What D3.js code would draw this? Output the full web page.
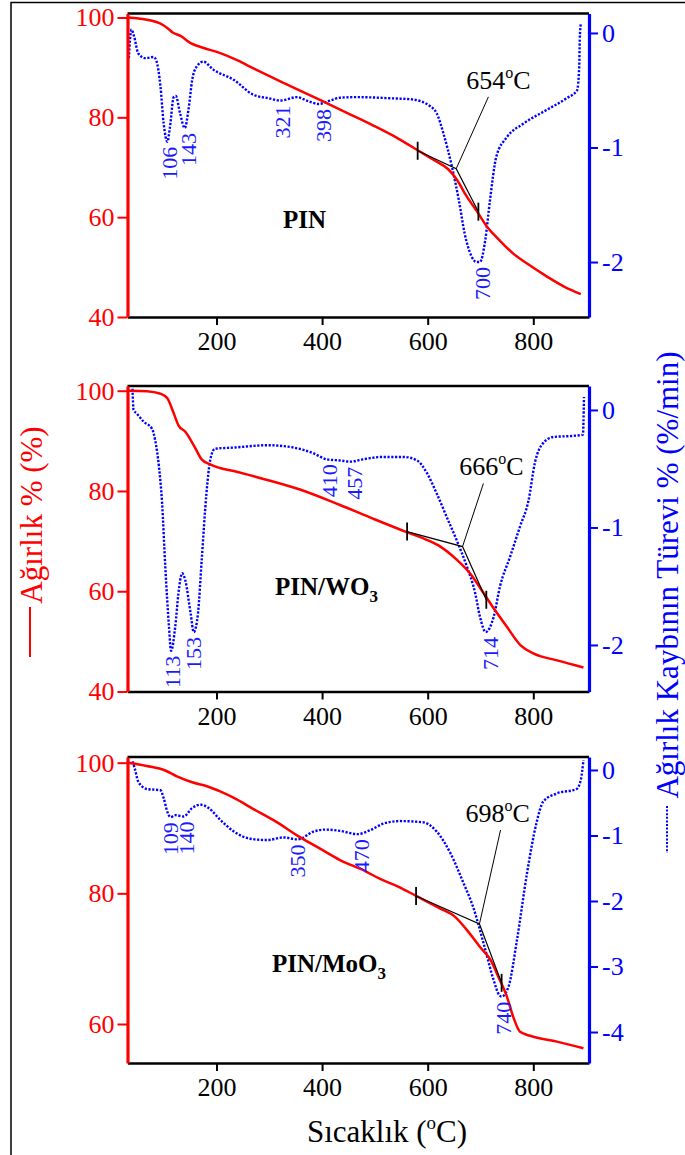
<!DOCTYPE html>
<html><head><meta charset="utf-8">
<script src="https://cdn.jsdelivr.net/npm/d3@7"></script>
<style>body{margin:0;background:#fff}svg{display:block}svg text{font-family:'Liberation Serif','Times New Roman',serif}</style>
</head><body>
<svg id="chart" width="685" height="1155"></svg>
<script>
// ---- axis tick values ----
const tempTicks = [200, 400, 600, 800];
const tempMinor = [100, 300, 500, 700, 900];
const weightTicksAB = [40, 60, 80, 100];
const weightMinorAB = [50, 70, 90];
const weightTicksC = [60, 80, 100];
const weightMinorC = [70, 90];
const derivTicksAB = [0, -1, -2];
const derivMinorAB = [-0.5, -1.5];
const derivTicksC = [0, -1, -2, -3, -4];
const derivMinorC = [-0.5, -1.5, -2.5, -3.5];

// ---- PIN ----
const pinWT = [32, 53, 93, 108, 117, 132, 152, 176, 206, 240, 270, 329, 398, 447, 496, 545, 581, 614, 639, 656, 673, 693, 713, 732, 762, 791, 826, 860, 890];
const pinW  = [100, 99.8, 98.8, 97.8, 97.0, 96.3, 94.8, 93.9, 92.9, 91.4, 89.8, 86.8, 83.4, 80.9, 78.4, 75.7, 73.4, 71.3, 69.6, 67.4, 64.3, 61.2, 58.0, 55.8, 52.7, 50.5, 48.1, 46.0, 44.6];
const pinDT = [34, 39, 44, 52, 65, 81, 86, 94, 100, 107, 112, 119, 123, 131, 140, 147, 154, 163, 175, 194, 233, 270, 299, 321, 353, 371, 393, 416, 434, 466, 529, 570, 605, 617, 630, 646, 659, 670, 683, 693, 699, 709, 718, 730, 750, 782, 826, 863, 883, 887, 888, 890];
const pinD  = [-0.22, 0.03, -0.03, -0.18, -0.22, -0.21, -0.24, -0.47, -0.79, -0.95, -0.82, -0.56, -0.55, -0.70, -0.83, -0.67, -0.41, -0.29, -0.25, -0.32, -0.41, -0.54, -0.57, -0.59, -0.56, -0.59, -0.62, -0.59, -0.565, -0.56, -0.57, -0.58, -0.64, -0.70, -0.88, -1.17, -1.46, -1.75, -1.95, -2.0, -2.0, -1.81, -1.46, -1.08, -0.91, -0.79, -0.67, -0.57, -0.50, -0.29, -0.06, 0.08];
const pinPeaks = [106, 143, 321, 398, 700];
const pinTanT = [581, 654, 696];
const pinTanW = [73.3, 69.7, 61.1];

// ---- PIN/WO3 ----
const wo3WT = [34, 68, 94, 107, 119, 128, 141, 157, 172, 188, 240, 296, 358, 434, 496, 560, 595, 624, 656, 680, 706, 725, 750, 776, 800, 845, 895];
const wo3W  = [100, 99.9, 99.4, 98.5, 95.5, 93.1, 91.8, 89.1, 86.3, 85.3, 83.8, 82.2, 80.3, 77.2, 74.5, 71.8, 70.4, 68.9, 66.2, 63.6, 59.6, 56.6, 52.9, 49.2, 47.6, 46.2, 44.8];
const wo3DT = [41, 43, 49, 62, 78, 84, 91, 97, 103, 110, 114, 122, 128, 135, 141, 151, 157, 165, 172, 181, 188, 197, 233, 296, 346, 384, 409, 434, 454, 477, 516, 555, 580, 599, 617, 636, 655, 674, 690, 699, 710, 725, 737, 756, 775, 791, 803, 819, 838, 876, 894, 896];
const wo3D  = [0.18, 0, -0.03, -0.10, -0.16, -0.26, -0.48, -0.79, -1.33, -1.84, -2.05, -1.84, -1.56, -1.39, -1.45, -1.73, -1.89, -1.73, -1.28, -0.71, -0.43, -0.33, -0.32, -0.30, -0.32, -0.37, -0.42, -0.43, -0.44, -0.42, -0.40, -0.40, -0.43, -0.54, -0.71, -0.91, -1.11, -1.33, -1.56, -1.76, -1.89, -1.76, -1.50, -1.25, -0.99, -0.77, -0.45, -0.28, -0.23, -0.22, -0.21, 0.11];
const wo3Peaks = [113, 153, 410, 457, 714];
const wo3TanT = [561, 666, 711];
const wo3TanW = [71.9, 68.9, 58.3];

// ---- PIN/MoO3 ----
const mooWT = [33, 68, 103, 125, 154, 182, 207, 233, 270, 314, 358, 397, 434, 479, 510, 545, 578, 623, 652, 674, 699, 719, 734, 750, 762, 775, 794, 845, 895];
const mooW  = [100, 99.5, 98.8, 97.9, 97.0, 96.4, 95.6, 94.6, 92.9, 90.9, 88.6, 86.8, 85.1, 83.5, 82.2, 81.0, 79.6, 77.7, 76.4, 74.4, 71.8, 69.8, 67.2, 64.2, 61.1, 58.8, 58.2, 57.3, 56.3];
const mooDT = [41, 45, 52, 68, 94, 100, 107, 113, 122, 138, 154, 170, 185, 207, 233, 264, 296, 327, 354, 384, 406, 434, 467, 491, 516, 547, 592, 617, 643, 668, 686, 706, 725, 735, 740, 753, 769, 788, 806, 819, 844, 882, 890, 895];
const mooD  = [0.13, 0.03, -0.18, -0.29, -0.31, -0.43, -0.64, -0.72, -0.69, -0.71, -0.58, -0.53, -0.58, -0.76, -0.94, -1.05, -1.07, -1.03, -1.06, -0.94, -0.91, -0.93, -0.98, -0.92, -0.82, -0.78, -0.80, -0.94, -1.27, -1.73, -2.09, -2.65, -3.21, -3.43, -3.46, -3.31, -2.60, -1.58, -0.81, -0.48, -0.36, -0.29, -0.15, 0.15];
const mooPeaks = [109, 140, 350, 470, 740];
const mooTanT = [578, 698, 740];
const mooTanW = [79.6, 75.3, 66.3];

const onsetLabels = ["654", "666", "698"];
const panelNames = [["PIN", ""], ["PIN/WO", "3"], ["PIN/MoO", "3"]];

// ---- layout ----
const RED = "#ff0000", BLUE = "#0000ff", FONT = "'Liberation Serif','Times New Roman',serif";
const svg = d3.select("#chart");
const X0 = 127.5, X1 = 589;
const x = d3.scaleLinear().domain([31.5, 905.5]).range([X0, X1]);

const panels = [
  {wT: pinWT, w: pinW, dT: pinDT, d: pinD, peaks: pinPeaks, tanT: pinTanT, tanW: pinTanW, leader: [715, 84.1], odx: 10,
   top: 13.5, bottom: 317, wDom: [40, 100.8], dDom: [-2.48, 0.17],
   wTicks: weightTicksAB, wMinor: weightMinorAB, dTicks: derivTicksAB, dMinor: derivMinorAB, nameX: 283, nameY: 228},
  {wT: wo3WT, w: wo3W, dT: wo3DT, d: wo3D, peaks: wo3Peaks, tanT: wo3TanT, tanW: wo3TanW, leader: [705.5, 81.5], odx: 8,
   top: 386, bottom: 691.5, wDom: [40, 100.94], dDom: [-2.396, 0.204],
   wTicks: weightTicksAB, wMinor: weightMinorAB, dTicks: derivTicksAB, dMinor: derivMinorAB, nameX: 275, nameY: 595},
  {wT: mooWT, w: mooW, dT: mooDT, d: mooD, peaks: mooPeaks, tanT: mooTanT, tanW: mooTanW, leader: [738, 89.7], odx: -3,
   top: 757, bottom: 1063, wDom: [54.03, 100.87], dDom: [-4.473, 0.198],
   wTicks: weightTicksC, wMinor: weightMinorC, dTicks: derivTicksC, dMinor: derivMinorC, nameX: 272, nameY: 972}
];

// outer frame
svg.append("path").attr("d", "M11,1160V2.5H690").attr("fill", "none").attr("stroke", "#000").attr("stroke-width", 1.5);

panels.forEach((p, i) => {
  const yL = d3.scaleLinear().domain(p.wDom).range([p.bottom, p.top]);
  const yR = d3.scaleLinear().domain(p.dDom).range([p.bottom, p.top]);
  const g = svg.append("g");

  // derivative (blue dotted)
  const dLine = d3.line().x(k => x(p.dT[k])).y(k => yR(p.d[k])).curve(d3.curveMonotoneX);
  g.append("path").attr("d", dLine(d3.range(p.dT.length)))
    .attr("fill", "none").attr("stroke", BLUE).attr("stroke-width", 2.4)
    .attr("stroke-dasharray", "2.2,1.6");

  // weight (red)
  const wLine = d3.line().x(k => x(p.wT[k])).y(k => yL(p.w[k])).curve(d3.curveMonotoneX);
  g.append("path").attr("d", wLine(d3.range(p.wT.length)))
    .attr("fill", "none").attr("stroke", RED).attr("stroke-width", 2.5);

  // tangent construction
  const tanPts = p.tanT.map((t, k) => [x(t), yL(p.tanW[k])]);
  g.append("path").attr("d", d3.line()(tanPts)).attr("fill", "none").attr("stroke", "#000").attr("stroke-width", 1.2);
  [0, 2].forEach(k => {
    g.append("line").attr("x1", tanPts[k][0]).attr("x2", tanPts[k][0])
      .attr("y1", tanPts[k][1] - 9).attr("y2", tanPts[k][1] + 9)
      .attr("stroke", "#000").attr("stroke-width", 1.8);
  });
  const le = [x(p.leader[0]), yL(p.leader[1])];
  g.append("line").attr("x1", tanPts[1][0]).attr("y1", tanPts[1][1]).attr("x2", le[0]).attr("y2", le[1])
    .attr("stroke", "#000").attr("stroke-width", 1);
  const ot = g.append("text").attr("x", le[0] + p.odx).attr("y", le[1] - 8).attr("text-anchor", "middle")
    .attr("font-family", FONT).attr("font-size", 26).attr("fill", "#000");
  ot.append("tspan").text(onsetLabels[i]);
  ot.append("tspan").attr("font-size", 16).attr("dy", -11).text("o");
  ot.append("tspan").attr("dy", 11).text("C");

  // peak labels
  p.peaks.forEach(pk => {
    let mn = Infinity;
    p.dT.forEach((t, k) => { if (Math.abs(t - pk) <= 12) mn = Math.min(mn, p.d[k]); });
    g.append("text").attr("transform", `translate(${x(pk) + 2},${yR(mn) + 5}) rotate(-90)`)
      .attr("text-anchor", "end").attr("dy", "0.35em")
      .attr("font-family", FONT).attr("font-size", 22).attr("fill", "#1a1aff").text(pk);
  });

  // panel name
  const nt = g.append("text").attr("x", p.nameX).attr("y", p.nameY)
    .attr("font-family", FONT).attr("font-size", 25).attr("font-weight", "bold").attr("fill", "#000");
  nt.append("tspan").text(panelNames[i][0]);
  if (panelNames[i][1]) nt.append("tspan").attr("font-size", 17).attr("dy", 7).text(panelNames[i][1]);

  // top line
  g.append("line").attr("x1", X0).attr("x2", X1).attr("y1", p.top).attr("y2", p.top)
    .attr("stroke", "#000").attr("stroke-width", 2.5);

  // bottom axis
  const gb = g.append("g").attr("transform", `translate(0,${p.bottom})`);
  gb.call(d3.axisBottom(x).tickValues(tempMinor).tickSize(5).tickSizeOuter(0).tickFormat(""));
  gb.call(d3.axisBottom(x).tickValues(tempTicks).tickSize(8).tickPadding(7).tickSizeOuter(0).tickFormat(d => String(d)));
  gb.attr("font-family", FONT);
  gb.selectAll(".domain").attr("stroke", "#000").attr("stroke-width", 2.5);
  gb.selectAll(".tick line").attr("stroke", "#000").attr("stroke-width", 2);
  gb.selectAll("text").attr("font-family", FONT).attr("font-size", 26).attr("fill", "#000");

  // left axis (red)
  const gl = g.append("g").attr("transform", `translate(${X0},0)`);
  gl.call(d3.axisLeft(yL).tickValues(p.wMinor).tickSize(5).tickSizeOuter(0).tickFormat(""));
  gl.call(d3.axisLeft(yL).tickValues(p.wTicks).tickSize(10).tickPadding(3).tickSizeOuter(0).tickFormat(d => String(d)));
  gl.attr("font-family", FONT);
  gl.selectAll(".domain").attr("stroke", RED).attr("stroke-width", 3.2);
  gl.selectAll(".tick line").attr("stroke", RED).attr("stroke-width", 2);
  gl.selectAll("text").attr("font-family", FONT).attr("font-size", 26).attr("fill", RED);

  // right axis (blue)
  const gr = g.append("g").attr("transform", `translate(${X1},0)`);
  gr.call(d3.axisRight(yR).tickValues(p.dMinor).tickSize(6).tickSizeOuter(0).tickFormat(""));
  gr.call(d3.axisRight(yR).tickValues(p.dTicks).tickSize(9).tickPadding(4).tickSizeOuter(0).tickFormat(d => String(d)));
  gr.attr("font-family", FONT);
  gr.selectAll(".domain").attr("stroke", BLUE).attr("stroke-width", 3.2);
  gr.selectAll(".tick line").attr("stroke", BLUE).attr("stroke-width", 2);
  gr.selectAll("text").attr("font-family", FONT).attr("font-size", 26).attr("fill", BLUE);
});

// axis titles
const xt = svg.append("text").attr("x", 387).attr("y", 1142).attr("text-anchor", "middle")
  .attr("font-family", FONT).attr("font-size", 31).attr("fill", "#000");
xt.append("tspan").text("Sıcaklık (");
xt.append("tspan").attr("font-size", 19).attr("dy", -13).text("o");
xt.append("tspan").attr("dy", 13).text("C)");

svg.append("line").attr("x1", 30).attr("x2", 30).attr("y1", 607).attr("y2", 657)
  .attr("stroke", RED).attr("stroke-width", 2);
svg.append("text").attr("transform", "translate(42,515) rotate(-90)").attr("text-anchor", "middle")
  .attr("font-family", FONT).attr("font-size", 31).attr("fill", RED).text("Ağırlık % (%)");

svg.append("line").attr("x1", 667).attr("x2", 667).attr("y1", 806).attr("y2", 853)
  .attr("stroke", BLUE).attr("stroke-width", 2).attr("stroke-dasharray", "2,1.6");
svg.append("text").attr("transform", "translate(678,575) rotate(-90)").attr("text-anchor", "middle")
  .attr("font-family", FONT).attr("font-size", 31).attr("fill", BLUE).text("Ağırlık Kaybının Türevi % (%/min)");
</script>
</body></html>
